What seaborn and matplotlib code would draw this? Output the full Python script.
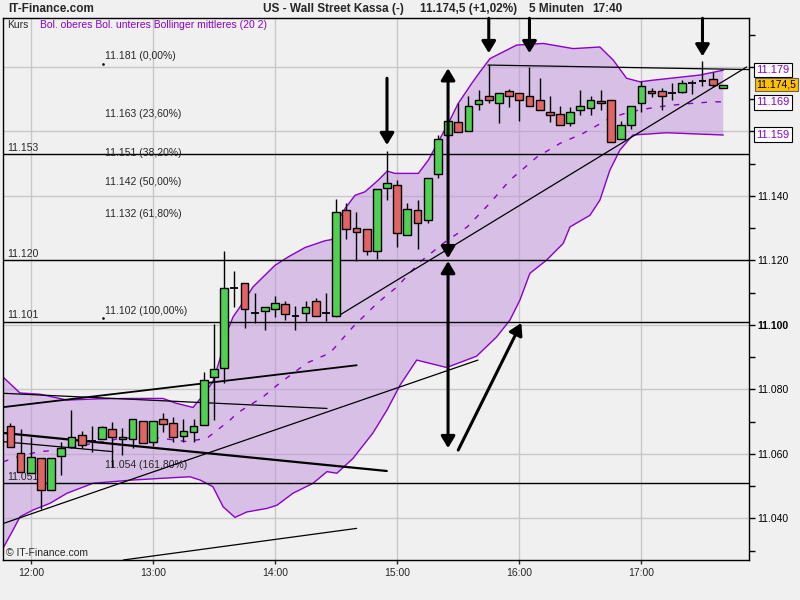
import numpy as np
import pandas as pd
import matplotlib
matplotlib.use("Agg")
import matplotlib.pyplot as plt
import seaborn as sns

# 5-Minuten-Kerzen 11:50 - 17:40
opens = [11068.6, 11060.2, 11054.0, 11058.6, 11048.8, 11059.4, 11062.0, 11065.8, 11064.0, 11064.5,
         11067.6, 11064.5, 11064.5, 11070.1, 11063.6, 11070.7, 11069.6, 11065.7, 11066.8, 11069.1,
         11083.7, 11086.5, 11111.4, 11112.9, 11103.6, 11104.2, 11105.0, 11106.4, 11102.7, 11103.6,
         11107.3, 11103.6, 11102.7, 11135.8, 11130.2, 11129.6, 11123.0, 11142.6, 11143.3, 11127.8,
         11135.8, 11132.4, 11146.7, 11158.8, 11162.8, 11160.3, 11168.4, 11170.9, 11168.7, 11172.6,
         11171.8, 11170.9, 11169.9, 11165.9, 11165.4, 11162.7, 11166.8, 11167.4, 11169.3, 11169.9,
         11157.7, 11161.9, 11168.7, 11172.7, 11172.4, 11171.8, 11172.3, 11175.1, 11175.6, 11176.4,
         11173.5]
highs = [11069.6, 11067.6, 11065.3, 11058.6, 11058.6, 11063.7, 11073.6, 11067.2, 11068.6, 11068.6,
         11069.9, 11067.9, 11070.7, 11070.1, 11070.1, 11072.6, 11071.3, 11070.7, 11070.7, 11085.3,
         11100.2, 11122.9, 11116.7, 11112.9, 11109.8, 11105.7, 11109.1, 11107.4, 11105.8, 11107.4,
         11108.4, 11110.0, 11139.0, 11137.9, 11135.0, 11129.6, 11142.3, 11153.9, 11144.9, 11137.7,
         11138.9, 11145.7, 11158.9, 11163.4, 11168.7, 11170.9, 11172.8, 11180.6, 11171.8, 11173.3,
         11171.8, 11180.0, 11176.7, 11170.9, 11167.8, 11167.6, 11172.8, 11170.9, 11172.8, 11169.9,
         11163.1, 11167.8, 11175.7, 11173.5, 11173.5, 11174.9, 11175.9, 11175.9, 11181.8, 11178.4,
         11174.5]
lows = [11062.2, 11054.4, 11054.0, 11042.9, 11048.8, 11053.4, 11061.7, 11061.7, 11060.5, 11064.5,
        11056.0, 11059.6, 11061.7, 11063.3, 11062.5, 11066.9, 11063.6, 11063.6, 11063.6, 11069.1,
        11070.5, 11082.0, 11105.6, 11099.2, 11100.7, 11098.4, 11102.5, 11101.5, 11098.4, 11101.1,
        11102.7, 11101.1, 11102.7, 11126.7, 11119.7, 11121.6, 11120.6, 11138.7, 11124.2, 11127.8,
        11123.7, 11131.7, 11145.6, 11158.8, 11159.8, 11160.3, 11166.8, 11168.7, 11162.7, 11167.6,
        11163.3, 11167.8, 11166.8, 11163.0, 11161.9, 11161.7, 11165.1, 11165.1, 11166.8, 11156.8,
        11157.7, 11160.8, 11165.9, 11170.7, 11166.8, 11169.9, 11171.8, 11171.5, 11174.0, 11173.8,
        11173.5]
closes = [11062.2, 11054.4, 11059.1, 11048.7, 11058.6, 11061.7, 11065.1, 11062.7, 11064.0, 11068.2,
          11065.1, 11065.1, 11070.7, 11063.3, 11070.1, 11069.2, 11065.1, 11067.0, 11068.6, 11082.8,
          11086.2, 11111.6, 11111.4, 11104.8, 11103.6, 11105.7, 11106.7, 11103.4, 11102.7, 11105.7,
          11102.7, 11103.6, 11134.9, 11129.6, 11128.8, 11122.8, 11142.3, 11143.9, 11128.6, 11136.1,
          11131.7, 11145.7, 11157.8, 11163.4, 11159.8, 11167.8, 11169.9, 11169.9, 11171.8, 11171.0,
          11169.9, 11167.8, 11166.8, 11165.0, 11161.9, 11165.9, 11167.8, 11169.9, 11168.7, 11156.8,
          11161.9, 11167.8, 11174.0, 11171.8, 11170.9, 11171.8, 11174.9, 11175.1, 11175.6, 11174.3,
          11174.5]

# Bollinger (20 2): Zeit in Minuten ab 12:00
upper_t = [-13.6, -5.3, 4.6, 17.8, 34, 49.6, 65, 70.9, 79.7, 84, 89.5, 93, 95.4, 99.4, 102.8,
           109.2, 120, 126.5, 134.7, 144.5, 148, 151, 154.4, 159.3, 164.2, 170.7, 175.1, 178.9,
           190.4, 195.3, 200.2, 205.1, 210, 216.6, 220.7, 225.6, 238.7, 251.8, 266.5, 279.6,
           286.2, 292.7, 299.3, 305.6, 328.7, 340.2]
upper_p = [11083.8, 11078.9, 11078.5, 11076.7, 11077.1, 11077.2, 11077.2, 11075.8, 11074.4,
           11077.7, 11082.4, 11089.6, 11096.3, 11102.5, 11105.6, 11111.8, 11118.5, 11121.1,
           11124.0, 11126.1, 11126.5, 11132.5, 11136.1, 11140.2, 11141.3, 11144.9, 11147.7,
           11147.0, 11147.0, 11151.1, 11156.8, 11162.5, 11168.7, 11174.9, 11178.5, 11182.6,
           11186.8, 11187.3, 11185.7, 11186.2, 11182.1, 11176.5, 11175.4, 11175.9, 11177.5,
           11179.0]
lower_t = [-13.6, -8.7, -5.3, 1.1, 9.5, 17.8, 30.6, 50.2, 71.9, 78.2, 83.2, 89.5, 94.5, 100.3,
           106.2, 116.1, 121, 128.8, 138.7, 145.5, 150.4, 158.3, 168.1, 175, 181.4, 189.6, 204.3,
           219, 228.9, 235.4, 240.3, 245.2, 253.4, 261.6, 264.9, 274.7, 279.6, 284.5, 289.4,
           295.8, 312.4, 340.2]
lower_p = [11030.8, 11036.4, 11040.5, 11042.6, 11044.7, 11047.8, 11050.9, 11051.9, 11052.7,
           11052.9, 11051.9, 11049.8, 11043.6, 11040.3, 11042.0, 11043.1, 11044.1, 11047.8,
           11050.9, 11054.5, 11054.0, 11058.6, 11066.5, 11073.6, 11081.3, 11089.1, 11086.8,
           11090.3, 11096.3, 11101.5, 11107.7, 11116.0, 11120.1, 11125.3, 11130.4, 11134.0,
           11138.7, 11148.0, 11154.2, 11158.9, 11159.6, 11158.9]
mid_t = [-13.6, -8.7, 3.1, 8, 39, 43.9, 63.5, 76.8, 86.6, 97.9, 101.3, 114.1, 122.4, 135.7, 147,
         158.3, 170.1, 179.9, 191.2, 202.6, 214.4, 225.6, 235.4, 248.7, 260, 271.3, 284.5, 294.3,
         307.6, 320.3, 335, 340.2]
mid_p = [11057.5, 11058.7, 11060.6, 11060.9, 11064.1, 11064.9, 11064.9, 11063.8, 11064.9,
         11070.5, 11072.6, 11077.7, 11082.0, 11088.2, 11091.3, 11099.4, 11106.7, 11111.8,
         11119.5, 11125.3, 11130.4, 11137.8, 11144.9, 11152.1, 11156.3, 11159.4, 11164.1,
         11166.1, 11167.6, 11168.5, 11169.2, 11169.2]

# horizontale Linien und Fibonacci-Werte
h_levels = [11153, 11120, 11101, 11051]
fib_levels = [11181, 11163, 11151, 11142, 11132, 11102, 11054]
fib_pct = ["0,00", "23,60", "38,20", "50,00", "61,80", "100,00", "161,80"]

# Trendlinien: (t0, p0, t1, p1, breite)
trend_lines = [
    (-13.6, 11038.4, 219.7, 11089.1, 0.9),
    (150.3, 11102.5, 351.7, 11180.0, 0.9),
    (-13.6, 11074.5, 160.1, 11087.5, 1.3),
    (-13.6, 11078.8, 145.5, 11074.1, 0.9),
    (-13.6, 11066.5, 174.9, 11054.7, 1.6),
    (-13.6, 11063.8, 40.4, 11060.7, 0.9),
    (45.5, 11027.1, 160.1, 11036.9, 0.9),
    (224.6, 11180.6, 352.8, 11179.2, 0.9),
]
# Pfeile: (t0, p0, t1, p1, stil)
arrows = [
    (175, 11176.5, 175, 11155.8, "-|>"),
    (225, 11195.1, 225, 11184.3, "-|>"),
    (245, 11195.1, 245, 11184.3, "-|>"),
    (330, 11195.1, 330, 11183.3, "-|>"),
    (205, 11120.7, 205, 11179.6, "<|-|>"),
    (205, 11061.8, 205, 11119.8, "<|-|>"),
    (210, 11061.2, 241, 11100.6, "-|>"),
]
# Kästchen rechts
box_vals = [11179, 11174.5, 11169, 11159]
box_text = ["11.179", "11.174,5", "11.169", "11.159"]


def de(v):
    return f"{int(round(v)):,}".replace(",", ".")


sns.set_style("ticks")
plt.rcParams["font.family"] = ["Liberation Sans", "DejaVu Sans"]

bg = "#f0f0f0"
purple = "#8c00c8"
green = "#50d050"
red = "#e06464"

fig = plt.figure(figsize=(8, 6), dpi=100, facecolor=bg)
ax = fig.add_axes([0.00413, 0.0667, 0.9325, 0.9028])
ax.set_facecolor(bg)

times = pd.date_range("2010-06-01 11:50", periods=len(opens), freq="5min")
x = ((times - pd.Timestamp("2010-06-01 12:00")).total_seconds() / 60).to_numpy()
o = np.array(opens); h = np.array(highs); l = np.array(lows); c = np.array(closes)

# Bollinger-Band
poly_t = np.r_[upper_t, lower_t[::-1]]
poly_p = np.r_[upper_p, lower_p[::-1]]
ax.fill(poly_t, poly_p, color="#c090dc", alpha=0.5, lw=0, zorder=1)
sns.lineplot(x=upper_t, y=upper_p, ax=ax, color=purple, lw=1, estimator=None, sort=False, zorder=2)
sns.lineplot(x=lower_t, y=lower_p, ax=ax, color=purple, lw=1, estimator=None, sort=False, zorder=2)
sns.lineplot(x=mid_t, y=mid_p, ax=ax, color=purple, lw=1, estimator=None, sort=False,
             dashes=False, zorder=2).lines[-1].set_dashes([4, 6])

# horizontale Linien
for lv in h_levels:
    ax.axhline(lv, color="black", lw=1, zorder=2.5)
    ax.annotate(de(lv), xy=(0.005, lv), xycoords=("axes fraction", "data"),
                xytext=(0, 1), textcoords="offset points", fontsize=7.5, va="bottom")

for lv, pc in zip(fib_levels, fib_pct):
    ax.annotate(f"{de(lv)} ({pc}%)", xy=(36.5, lv), xytext=(0, 2),
                textcoords="offset points", fontsize=7.5, va="bottom")
ax.plot([35.5, 35.5], [fib_levels[0], fib_levels[5]], ls="none", marker="s",
        ms=0.8, color="black")

for t0, p0, t1, p1, w in trend_lines:
    ax.plot([t0, t1], [p0, p1], color="black", lw=w, zorder=3)

# Kerzen
width = 3.8
ax.vlines(x, l, h, color="black", lw=1, zorder=4)
up = c > o
dn = c < o
dj = c == o
ax.bar(x[up], (c - o)[up], bottom=o[up], width=width, color=green,
       edgecolor="black", lw=1, zorder=5)
ax.bar(x[dn], (o - c)[dn], bottom=c[dn], width=width, color=red,
       edgecolor="black", lw=1, zorder=5)
ax.hlines(o[dj], x[dj] - width / 2, x[dj] + width / 2, color="black", lw=1.3, zorder=5)

for t0, p0, t1, p1, st in arrows:
    ax.annotate("", xy=(t1, p1), xytext=(t0, p0),
                arrowprops=dict(arrowstyle=f"{st},head_length=0.7,head_width=0.42",
                                color="black", lw=2.2, shrinkA=0, shrinkB=0),
                annotation_clip=False, zorder=6)

# Achsen
ax.set_xlim(-13.5, 353)
ax.set_ylim(11027.1, 11195.1)
hours = [0, 60, 120, 180, 240, 300]
ax.set_xticks(hours, labels=[f"{12 + i}:00" for i in range(len(hours))])
major = list(range(11040, 11181, 20))
ax.yaxis.tick_right()
ax.set_yticks(major, labels=["" if v in (11160, 11180) else de(v) for v in major])
ax.set_yticks(list(range(11030, 11191, 20)), minor=True)
for lab, v in zip(ax.get_yticklabels(), major):
    if v == 11100:
        lab.set_fontweight("bold")
        lab.set_fontsize(8.5)
ax.tick_params(axis="y", which="both", direction="out", length=4, width=1,
               labelsize=7.5, pad=2, colors="black")
ax.tick_params(axis="x", direction="out", length=3, width=1, labelsize=7.5, pad=3)
ax.grid(True, which="major", color="#c8c8c8", lw=1)
ax.set_axisbelow(True)
for s in ax.spines.values():
    s.set_color("black")
    s.set_linewidth(1)
ax.set_xlabel("")
ax.set_ylabel("")

# Kästchen rechts
for v, t in zip(box_vals, box_text):
    gold = "," in t
    ax.annotate(t, xy=(1.0095, v), xycoords=("axes fraction", "data"),
                fontsize=7.5 if gold else 8, va="center", ha="left",
                color="black" if gold else purple, annotation_clip=False, zorder=10,
                bbox=dict(boxstyle="square,pad=0.12" if gold else "square,pad=0.2",
                          fc="#ffc000" if gold else "white",
                          ec="#606060" if gold else "black", lw=0.8))

ax.text(0.005, 0.988, "Kurs", transform=ax.transAxes, fontsize=7.5, va="center")
ax.text(0.049, 0.988, "Bol. oberes Bol. unteres Bollinger mittleres (20 2)",
        transform=ax.transAxes, fontsize=7.5, va="center", color=purple)
ax.text(0.003, 0.012, "© IT-Finance.com", transform=ax.transAxes, fontsize=7.5, va="center")

fig.text(8 / 800, 1 - 9 / 600, "IT-Finance.com", fontsize=8.5, fontweight="bold", va="center")
for xp, t in [(263, "US - Wall Street Kassa (-)"), (420, "11.174,5 (+1,02%)"),
              (529, "5 Minuten"), (592, "17:40")]:
    fig.text(xp / 800, 1 - 9 / 600, t, fontsize=8.5, fontweight="bold", va="center")

fig.savefig("out.png", dpi=100, facecolor=bg)
